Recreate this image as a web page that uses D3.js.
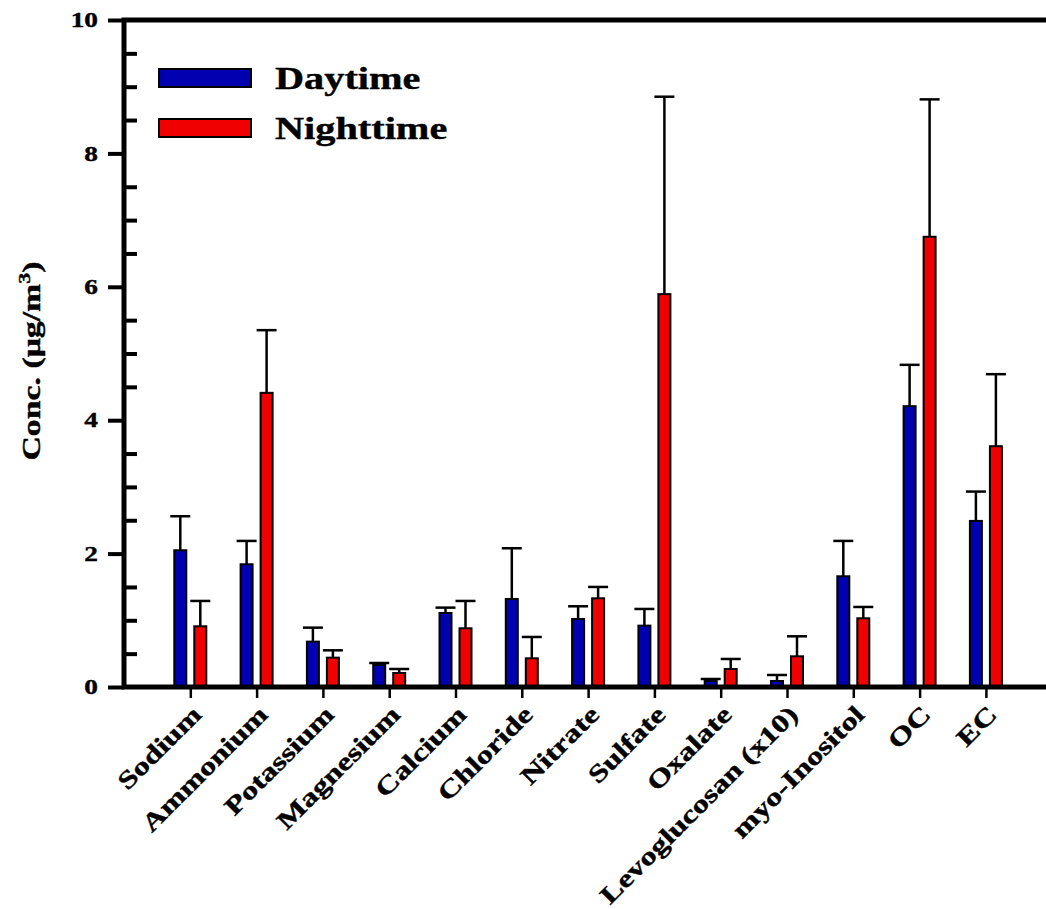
<!DOCTYPE html>
<html>
<head>
<meta charset="utf-8">
<script src="https://cdn.jsdelivr.net/npm/d3@7"></script>
<style>
    body { margin: 0; background: #fff; }
    text { font-family: "Liberation Serif", "Times New Roman", serif; font-weight: bold; fill: #000;
           stroke: #000; stroke-width: 0.4px; }
</style>
</head>
<body>
<div id="chartArea"></div>
<script>
const categories = ["Sodium", "Ammonium", "Potassium", "Magnesium", "Calcium", "Chloride", "Nitrate",
    "Sulfate", "Oxalate", "Levoglucosan (x10)", "myo-Inositol", "OC", "EC"];
const dayMean = [2.05, 1.84, 0.68, 0.33, 1.11, 1.32, 1.02, 0.92, 0.09, 0.09, 1.66, 4.21, 2.49];
const daySD = [0.51, 0.35, 0.21, 0.03, 0.08, 0.76, 0.19, 0.25, 0.03, 0.09, 0.53, 0.62, 0.44];
const nightMean = [0.91, 4.41, 0.44, 0.21, 0.88, 0.43, 1.33, 5.89, 0.27, 0.46, 1.03, 6.75, 3.61];
const nightSD = [0.38, 0.94, 0.11, 0.06, 0.41, 0.32, 0.17, 2.96, 0.15, 0.30, 0.17, 2.06, 1.08];
const seriesNames = ["Daytime", "Nighttime"];
const seriesColors = ["#0000b0", "#f00000"];
const yTicks = [0, 2, 4, 6, 8, 10];

const width = 1046, height = 909;
const plotLeft = 124, plotTop = 20, plotBottom = 687;
const xStep = 66.3;
const stretch = 1.3; // glyphs in the original are drawn wider than Times

const svg = d3.select("#chartArea")
    .append("svg")
    .attr("width", width)
    .attr("height", height);

const xScale = d3.scaleLinear()
    .domain([0, categories.length + 1])
    .range([plotLeft, plotLeft + xStep * (categories.length + 1)]);
const yScale = d3.scaleLinear()
    .domain([0, 10])
    .range([plotBottom, plotTop]);

// bars + error bars
const series = [
    {mean: dayMean, sd: daySD, off: -10},
    {mean: nightMean, sd: nightSD, off: 10}
];
series.forEach((s, si) => {
    const g = svg.append("g");
    const rows = s.mean.map((v, i) => ({i: i, v: v, sd: s.sd[i]}));
    // error bar first so the bar covers the bottom end
    g.selectAll(".err").data(rows).enter().append("line")
        .attr("x1", d => xScale(d.i + 1) + s.off)
        .attr("x2", d => xScale(d.i + 1) + s.off)
        .attr("y1", d => yScale(d.v))
        .attr("y2", d => yScale(d.v + d.sd))
        .attr("stroke", "#000")
        .attr("stroke-width", 2.5);
    g.selectAll(".cap").data(rows).enter().append("line")
        .attr("x1", d => xScale(d.i + 1) + s.off - 10)
        .attr("x2", d => xScale(d.i + 1) + s.off + 10)
        .attr("y1", d => yScale(d.v + d.sd))
        .attr("y2", d => yScale(d.v + d.sd))
        .attr("stroke", "#000")
        .attr("stroke-width", 2.5);
    g.selectAll("rect").data(rows).enter().append("rect")
        .attr("x", d => xScale(d.i + 1) + s.off - 6)
        .attr("width", 12)
        .attr("y", d => yScale(d.v))
        .attr("height", d => yScale(0) - yScale(d.v))
        .attr("fill", seriesColors[si])
        .attr("stroke", "#000")
        .attr("stroke-width", 2);
});

// frame
svg.append("rect")
    .attr("x", plotLeft)
    .attr("y", plotTop)
    .attr("width", xScale(categories.length + 1) - plotLeft)
    .attr("height", plotBottom - plotTop)
    .attr("fill", "none")
    .attr("stroke", "#000")
    .attr("stroke-width", 5);

// y axis: major ticks outside, minor ticks inside
const yAxis = d3.axisLeft(yScale).tickValues(yTicks).tickSize(16).tickPadding(10).tickFormat(d3.format("d"));
const yAxisGroup = svg.append("g")
    .attr("transform", `translate(${plotLeft},0)`)
    .call(yAxis);
yAxisGroup.select(".domain").remove();
yAxisGroup.selectAll(".tick line").attr("stroke-width", 4);
yAxisGroup.selectAll(".tick text")
    .style("font-size", "21px")
    .attr("transform", `scale(${stretch},1)`)
    .attr("x", -26 / stretch);

const minorTicks = d3.range(0.5, 10, 0.5).filter(d => d % 2 !== 0);
const yMinor = d3.axisRight(yScale).tickValues(minorTicks).tickSize(13).tickFormat("");
const yMinorGroup = svg.append("g")
    .attr("transform", `translate(${plotLeft},0)`)
    .call(yMinor);
yMinorGroup.select(".domain").remove();
yMinorGroup.selectAll(".tick line").attr("stroke-width", 4);

// x axis ticks + rotated labels
const xAxis = d3.axisBottom(xScale)
    .tickValues(d3.range(1, categories.length + 1))
    .tickSize(11)
    .tickFormat(d => categories[d - 1]);
const xAxisGroup = svg.append("g")
    .attr("transform", `translate(0,${plotBottom})`)
    .call(xAxis);
xAxisGroup.select(".domain").remove();
xAxisGroup.selectAll(".tick line").attr("stroke-width", 2.5);
xAxisGroup.selectAll(".tick text")
    .style("font-size", "25px")
    .style("text-anchor", "end")
    .attr("y", 0)
    .attr("dy", 0)
    .attr("transform", `translate(12,29) rotate(-45) scale(${stretch},1)`);

// y label
const yLabel = svg.append("text")
    .attr("transform", `translate(40,361) rotate(-90) scale(${stretch},1)`)
    .attr("text-anchor", "middle")
    .style("font-size", "26px");
yLabel.append("tspan").text("Conc. (μg/m");
yLabel.append("tspan").text("3").style("font-size", "17px").attr("dy", -10);
yLabel.append("tspan").text(")").attr("dy", 10);

// legend
const legend = svg.append("g");
seriesNames.forEach((name, i) => {
    legend.append("rect")
        .attr("x", 159)
        .attr("y", 69 + i * 50)
        .attr("width", 92)
        .attr("height", 18)
        .attr("fill", seriesColors[i])
        .attr("stroke", "#000")
        .attr("stroke-width", 2);
    legend.append("text")
        .attr("transform", `translate(275,${89 + i * 50}) scale(${stretch},1)`)
        .style("font-size", "31px")
        .text(name);
});
</script>
</body>
</html>
